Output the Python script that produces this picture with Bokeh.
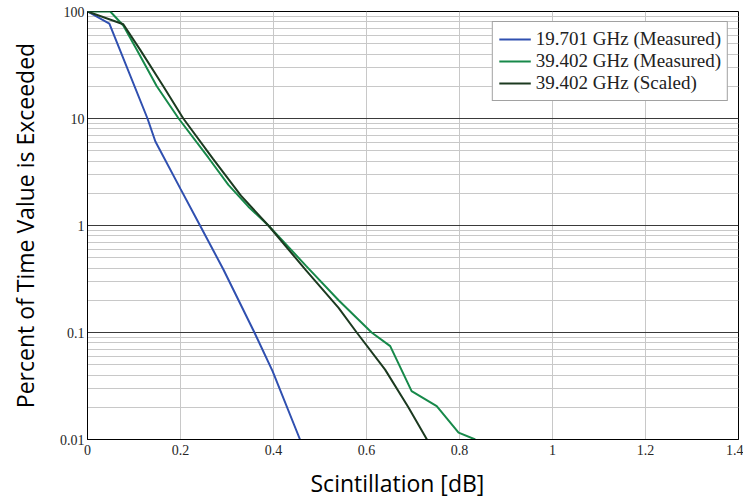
from bokeh.plotting import figure
from bokeh.models import Range1d, FixedTicker, CustomJSTickFormatter, Legend, LegendItem, Title
from bokeh.embed import file_html
from bokeh.resources import INLINE

# ---- data ----
blue_x = [0, 0.047, 0.129, 0.146, 0.200, 0.242, 0.292, 0.359, 0.398, 0.457]
blue_y = [100, 77, 10, 6.1, 2.2, 1.0, 0.39, 0.10, 0.0435, 0.01]

green_x = [0, 0.049, 0.077, 0.106, 0.149, 0.196, 0.26, 0.303, 0.346, 0.389, 0.47, 0.54,
           0.611, 0.651, 0.697, 0.751, 0.798, 0.834]
green_y = [100, 100, 74, 44, 20, 10, 4.3, 2.4, 1.5, 1.0, 0.42, 0.20,
           0.10, 0.0745, 0.0283, 0.0205, 0.0116, 0.01]

dark_x = [0, 0.077, 0.113, 0.163, 0.206, 0.27, 0.33, 0.389, 0.47, 0.54, 0.579, 0.64, 0.69, 0.73]
dark_y = [100, 76, 44, 20, 10, 4.2, 1.9, 1.0, 0.38, 0.17, 0.10, 0.045, 0.02, 0.01]

series_names = ["19.701 GHz (Measured)", "39.402 GHz (Measured)", "39.402 GHz (Scaled)"]
series_colors = ["#3050b0", "#17894a", "#1c3a20"]

x_ticks = [0, 0.2, 0.4, 0.6, 0.8, 1.0, 1.2, 1.4]
y_ticks = [0.01, 0.1, 1, 10, 100]
y_minor = [m * d for d in [0.01, 0.1, 1, 10] for m in range(2, 10)]

x_label = "Scintillation [dB]"
y_label = "Percent of Time Value is Exceeded"

# ---- figure ----
p = figure(frame_width=651, frame_height=428, y_axis_type="log",
           x_range=Range1d(0, 1.4), y_range=Range1d(0.01, 100),
           output_backend="svg", toolbar_location=None,
           min_border_left=87, min_border_top=11, min_border_right=5, min_border_bottom=0)

p.outline_line_color = "black"
p.outline_line_width = 1
p.background_fill_color = "white"

fmt = CustomJSTickFormatter(code="return String(Math.round(tick*100)/100);")

p.xaxis.ticker = FixedTicker(ticks=x_ticks)
p.yaxis.ticker = FixedTicker(ticks=y_ticks, minor_ticks=y_minor)
p.xaxis.formatter = fmt
p.yaxis.formatter = fmt

for ax in (p.xaxis, p.yaxis):
    ax.major_tick_line_color = None
    ax.minor_tick_line_color = None
    ax.major_tick_out = 0
    ax.major_tick_in = 0
    ax.minor_tick_out = 0
    ax.axis_line_color = "black"
    ax.axis_line_width = 1
    ax.major_label_text_font = "Liberation Serif"
    ax.major_label_text_font_size = "14px"
    ax.major_label_text_color = "#262626"
    ax.axis_label_text_font = "Open Sans"
    ax.axis_label_text_font_size = "23px"
    ax.axis_label_text_font_style = "normal"
    ax.axis_label_text_color = "black"

p.xaxis.major_label_standoff = 5
p.yaxis.major_label_standoff = 3
p.yaxis.axis_label = y_label
p.yaxis.axis_label_standoff = 16

xt = Title(text=x_label, align="left", offset=223, standoff=15,
           text_font="Open Sans", text_font_size="23px", text_font_style="normal",
           text_color="black")
p.add_layout(xt, "below")

p.xgrid.ticker = FixedTicker(ticks=x_ticks)
p.xgrid.grid_line_color = "#c8c8c8"
p.xgrid.grid_line_width = 1
p.ygrid.ticker = FixedTicker(ticks=y_ticks, minor_ticks=y_minor)
p.ygrid.grid_line_color = "#3a3a3a"
p.ygrid.grid_line_width = 1
p.ygrid.minor_grid_line_color = "#c8c8c8"
p.ygrid.minor_grid_line_width = 1

r1 = p.line(blue_x, blue_y, line_color=series_colors[0], line_width=2)
r2 = p.line(green_x, green_y, line_color=series_colors[1], line_width=2)
r3 = p.line(dark_x, dark_y, line_color=series_colors[2], line_width=2)

legend = Legend(items=[LegendItem(label=series_names[0], renderers=[r1]),
                       LegendItem(label=series_names[1], renderers=[r2]),
                       LegendItem(label=series_names[2], renderers=[r3])],
                location="top_right")
legend.margin = 10
legend.padding = 6
legend.spacing = 0
legend.glyph_width = 32
legend.label_standoff = 5
legend.label_text_font = "Liberation Serif"
legend.label_text_font_size = "19px"
legend.label_text_color = "#222222"
legend.border_line_color = "#444444"
legend.border_line_width = 1
legend.background_fill_color = "white"
legend.background_fill_alpha = 1
p.add_layout(legend)

open("out.html", "w").write(file_html(p, INLINE))
